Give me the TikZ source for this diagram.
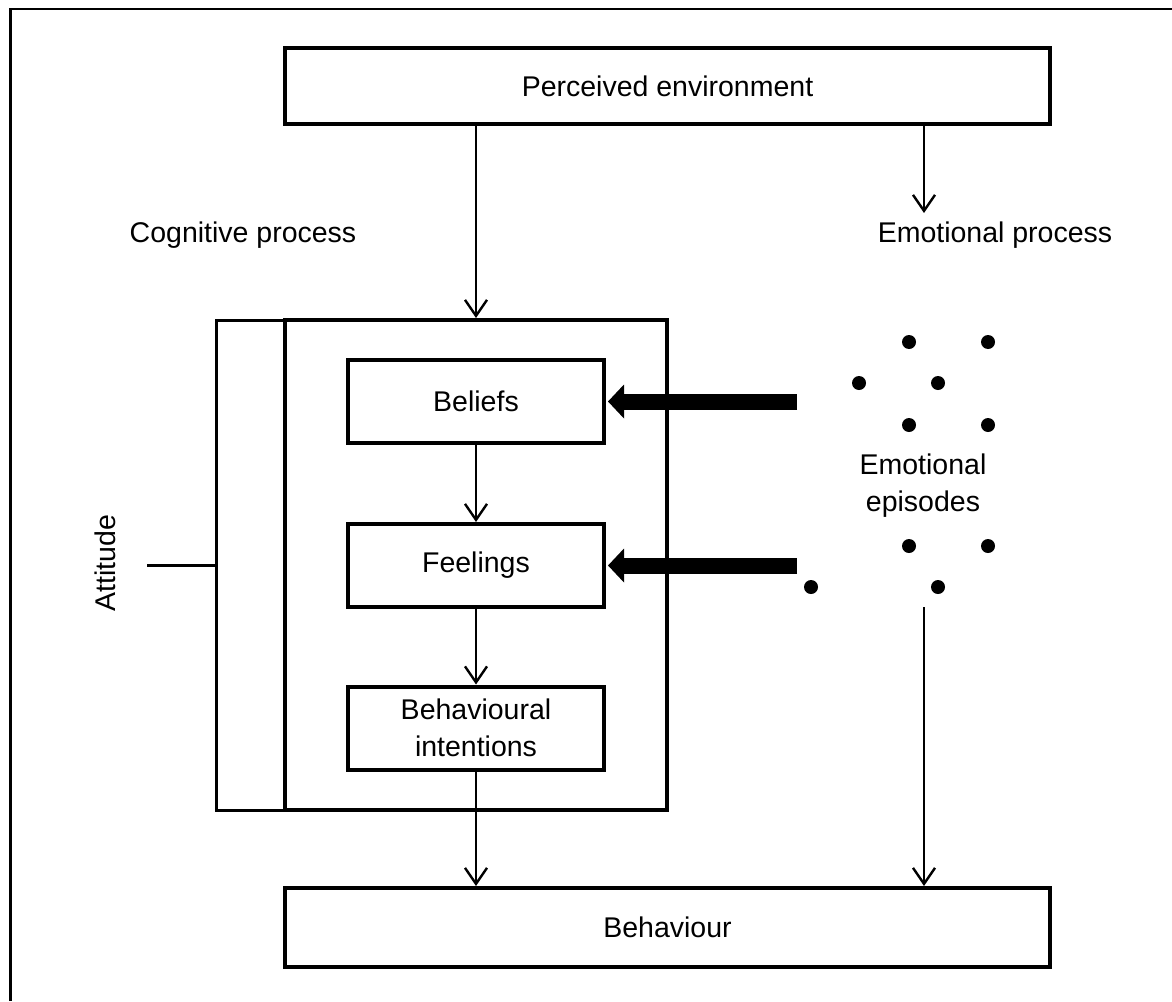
\documentclass[tikz,border=0pt]{standalone}
\usepackage{fontspec}
\setmainfont{Liberation Sans}
\usetikzlibrary{arrows.meta,calc}
\begin{document}
\begin{tikzpicture}[x=1pt,y=-1pt,
  txt/.style={font=\fontsize{28.5}{37}\selectfont, align=center},
  box/.style={txt, draw, line width=4pt, inner sep=0pt},
  wide/.style={box, minimum width=765pt},
  inner/.style={box, minimum width=256pt, minimum height=83pt},
  thinarrow/.style={line width=2.4pt, -{Straight Barb[length=16pt,width=22pt]}},
  heavyarrow/.style={line width=16pt, -{Triangle[length=16pt,width=34pt,line width=0pt]}},
  dot/.style={circle, fill, inner sep=0pt, minimum size=14pt},
]
\useasboundingbox (0,0) rectangle (1172,1001);
% frame
\draw[line width=2.4pt] (10.5,1001) -- (10.5,9) -- (1172,9);

% top and bottom boxes
\node[wide, minimum height=76pt] (pe) at (667.5,86) {Perceived environment};
\node[wide, minimum height=79pt] (beh) at (667.5,927.5) {Behaviour};

% attitude bracket and main block
\node[draw, line width=3pt, inner sep=0pt, minimum width=69pt, minimum height=490pt] (brk) at (250.5,565) {};
\node[box, minimum width=382pt, minimum height=490pt] (att) at (476,565) {};
\coordinate (tick) at (147,565);
\draw[line width=3pt] (brk.west) -- (tick);
\node[txt, rotate=90] (attlbl) at (105,563) {Attitude};

% components
\node[inner] (bel) at (476,401.5) {Beliefs};
\node[inner] (fee) at (476,565.5) {Feelings};
\node[inner] (bi) at (476,728) {Behavioural\\intentions};

% process labels
\node[txt, anchor=base] (cog) at (243,242) {Cognitive process};
\node[txt, anchor=base] (emo) at (995,242) {Emotional process};
\node[txt] (epi) at (923,486) {Emotional\\episodes};

% emotional episode dots
\foreach \i/\x/\y in {1/909/342, 2/988/342, 3/859/383, 4/938/383, 5/909/425,
                      6/988/425, 7/909/546, 8/988/546, 9/811/587, 10/938/587}
  \node[dot] (d\i) at (\x,\y) {};

% connectors
\coordinate (emotop) at (924,213);
\coordinate (epiout) at (924,607);
\draw[thinarrow] (pe.south -| att.north) -- (att.north);
\draw[thinarrow] (pe.south -| emotop) -- (emotop);
\draw[thinarrow] (bel) -- (fee);
\draw[thinarrow] (fee) -- (bi);
\draw[thinarrow] (bi.south) -- (bi.south |- beh.north);
\draw[thinarrow] (epiout) -- (epiout |- beh.north);

\path (bel.east) ++(191,0) coordinate (eb);
\path (fee.east) ++(191,0) coordinate (ef);
\draw[heavyarrow] (eb) -- ([xshift=2pt]bel.east);
\draw[heavyarrow] (ef) -- ([xshift=2pt]fee.east);
\end{tikzpicture}
\end{document}
